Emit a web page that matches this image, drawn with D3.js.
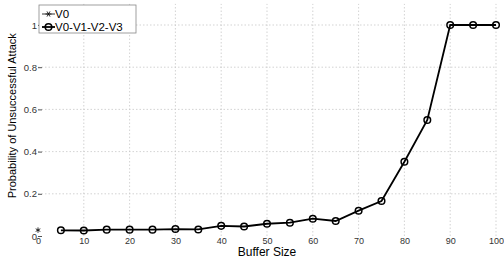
<!DOCTYPE html>
<html>
<head>
<meta charset="utf-8">
<script src="https://cdn.jsdelivr.net/npm/d3@7"></script>
<style>
  body { margin: 0; background: #fff; }
  text { font-family: "Liberation Sans", Arial, sans-serif; }
</style>
</head>
<body>
<div class="canvas"></div>
<script>
// data
const bufferSize = [5, 10, 15, 20, 25, 30, 35, 40, 45, 50, 55, 60, 65, 70, 75, 80, 85, 90, 95, 100];
const probAll = [0.027, 0.026, 0.03, 0.03, 0.03, 0.033, 0.031, 0.048, 0.045, 0.058, 0.063, 0.082, 0.071, 0.12, 0.166, 0.352, 0.55, 1, 1, 1];
const v0X = [0];
const v0Y = [0.028];
const xTicks = [0, 10, 20, 30, 40, 50, 60, 70, 80, 90, 100];
const yTicks = [0, 0.2, 0.4, 0.6, 0.8, 1];

const dims = { width: 504, height: 258 };

const svg = d3.select('.canvas')
  .append('svg')
  .attr('width', dims.width)
  .attr('height', dims.height);

const x = d3.scaleLinear().domain([0, 100]).range([38, 496]);
const y = d3.scaleLinear().domain([0, 1.1]).range([236, 236 - 211 * 1.1]);

//------------------------grid
const grid = svg.append('g');
grid.selectAll('line.vx')
  .data(xTicks.filter(d => d > 0))
  .enter().append('line')
  .attr('x1', d => x(d)).attr('x2', d => x(d))
  .attr('y1', y(0)).attr('y2', y(1.1))
  .attr('stroke', '#c8c8c8').attr('stroke-dasharray', '1.5,2').attr('stroke-width', 0.8);
grid.selectAll('line.hy')
  .data(yTicks.filter(d => d > 0))
  .enter().append('line')
  .attr('x1', x(0)).attr('x2', x(100))
  .attr('y1', d => y(d)).attr('y2', d => y(d))
  .attr('stroke', '#c8c8c8').attr('stroke-dasharray', '1.5,2').attr('stroke-width', 0.8);

//------------------------axes (no domain line, ticks pointing inward)
const yAxis = svg.append('g')
  .attr('transform', `translate(${x(0)},0)`)
  .call(d3.axisLeft(y).tickValues(yTicks).tickSize(-4).tickPadding(2).tickFormat(d => d));
yAxis.select('.domain').remove();
yAxis.selectAll('line').attr('stroke', '#555');
yAxis.selectAll('text').attr('font-size', 9.5).attr('fill', '#333')
  .attr('x', -1);

const xAxis = svg.append('g')
  .attr('transform', `translate(0,${y(0)})`)
  .call(d3.axisBottom(x).tickValues(xTicks).tickSize(0).tickPadding(2).tickFormat(d => d));
xAxis.select('.domain').remove();
xAxis.selectAll('text').attr('font-size', 9).attr('fill', '#333');

svg.append('text')
  .attr('x', (x(0) + x(100)) / 2).attr('y', 256)
  .attr('text-anchor', 'middle')
  .attr('font-size', 12)
  .text('Buffer Size');

svg.append('text')
  .attr('transform', `translate(16, ${y(0.57)}) rotate(-90)`)
  .attr('text-anchor', 'middle')
  .attr('font-size', 11)
  .text('Probability of Unsuccessful Attack');

//------------------------series
const line = d3.line().x(d => x(d[0])).y(d => y(d[1]));
const allData = bufferSize.map((b, i) => [b, probAll[i]]);
const v0Data = v0X.map((b, i) => [b, v0Y[i]]);

svg.append('path')
  .datum(allData)
  .attr('d', line)
  .attr('fill', 'none')
  .attr('stroke', '#000')
  .attr('stroke-width', 1.8);

svg.selectAll('circle.pt')
  .data(allData)
  .enter().append('circle')
  .attr('cx', d => x(d[0])).attr('cy', d => y(d[1]))
  .attr('r', 3.3)
  .attr('fill', 'none')
  .attr('stroke', '#000')
  .attr('stroke-width', 1.5);

const star = d3.symbol().type(d3.symbolAsterisk || d3.symbolCross).size(20);
svg.selectAll('path.v0')
  .data(v0Data)
  .enter().append('path')
  .attr('transform', d => `translate(${x(d[0])},${y(d[1])})`)
  .attr('d', star)
  .attr('fill', 'none')
  .attr('stroke', '#000')
  .attr('stroke-width', 0.8);

//------------------------legend
const legend = svg.append('g').attr('transform', 'translate(39,5)');
legend.append('rect')
  .attr('width', 97).attr('height', 28)
  .attr('fill', '#fff')
  .attr('stroke', '#888').attr('stroke-width', 0.8);

const asterisk = (g, cx, cy) => {
  [0, 60, 120].forEach(a => {
    const r = 3, t = a * Math.PI / 180;
    g.append('line')
      .attr('x1', cx - r * Math.cos(t)).attr('y1', cy - r * Math.sin(t))
      .attr('x2', cx + r * Math.cos(t)).attr('y2', cy + r * Math.sin(t))
      .attr('stroke', '#000').attr('stroke-width', 0.8);
  });
};

legend.append('line')
  .attr('x1', 3).attr('x2', 16).attr('y1', 9).attr('y2', 9)
  .attr('stroke', '#000').attr('stroke-width', 0.8);
asterisk(legend, 9.5, 9);
legend.append('text').attr('x', 16).attr('y', 13).attr('font-size', 11.5).text('V0');

legend.append('line')
  .attr('x1', 3).attr('x2', 16).attr('y1', 22).attr('y2', 22)
  .attr('stroke', '#000').attr('stroke-width', 1.8);
legend.append('circle')
  .attr('cx', 9.5).attr('cy', 22).attr('r', 3.3)
  .attr('fill', 'none').attr('stroke', '#000').attr('stroke-width', 1.5);
legend.append('text').attr('x', 16).attr('y', 26).attr('font-size', 11.5).text('V0-V1-V2-V3');
</script>
</body>
</html>
